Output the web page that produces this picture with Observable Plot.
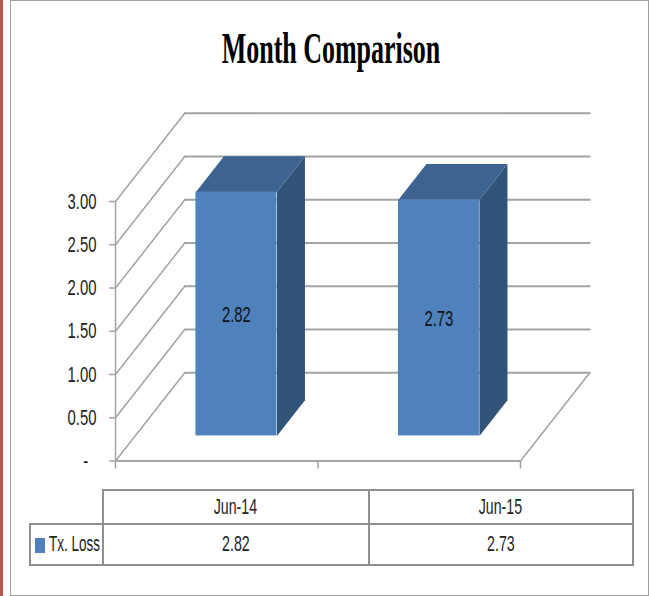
<!DOCTYPE html>
<html>
<head>
<meta charset="utf-8">
<script src="https://cdn.jsdelivr.net/npm/d3@7"></script>
<script src="https://cdn.jsdelivr.net/npm/@observablehq/plot@0.6"></script>
<style>
  html,body{margin:0;padding:0;background:#fff;}
  #page{position:relative;width:651px;height:596px;overflow:hidden;background:#fff;
        font-family:"Liberation Sans",sans-serif;color:#222;}
  #stripe{position:absolute;left:0;top:0;width:3px;height:596px;background:#C0504D;}
  #frame{position:absolute;left:10px;top:0;width:637px;height:593.5px;border:1.5px solid #a0a0a0;}
  #title{position:absolute;left:0;top:23px;width:662px;text-align:center;margin:0;line-height:normal;
         font:bold 44px "Liberation Serif",serif;color:#000;transform:scaleX(.59);}
  #chart{position:absolute;left:0;top:100px;}
  #chart svg{overflow:visible;}
  #dt{position:absolute;left:28.5px;top:488.5px;width:603px;border-collapse:collapse;table-layout:fixed;font-size:22.5px;}
  #dt td{border:2px solid #8f8f8f;text-align:center;padding:0;overflow:hidden;}
  #dt td.blank{border:none;border-right:2px solid #8f8f8f;border-bottom:2px solid #8f8f8f;}
  #dt td.key{text-align:left;white-space:nowrap;padding-left:4px;box-sizing:border-box;}
  #dt .t{display:inline-block;transform:scaleX(.63);}
  #dt .k{display:inline-block;transform:scaleX(.6);transform-origin:left center;}
  .sw{display:inline-block;width:10px;height:15px;background:#4F81BD;margin-right:4px;vertical-align:-2px;}
</style>
</head>
<body>
<div id="page">
  <div id="stripe"></div>
  <div id="frame"></div>
  <h1 id="title">Month Comparison</h1>
  <div id="chart"></div>
  <table id="dt"></table>
</div>
<script>
const categories = ["Jun-14", "Jun-15"];
const seriesName = "Tx. Loss";
const txLoss = [2.82, 2.73];
const valueTicks = [0, 0.5, 1, 1.5, 2, 2.5, 3];
const categoryEdges = [0, 1, 2];

const FRONT = "#4F81BD", SIDE = "#335479", TOP = "#3D6491", GRID = "#a3a3a3";

// oblique depth, in data units of the two scales
const depthX = 0.342, depthY = 1.02;
const barFront = 0.284, barBack = 0.689, barHalf = 0.2;
const proj = (x, v, z) => ({x: x + z * depthX, y: v + z * depthY});

const sideLines = valueTicks.flatMap(v => [proj(0, v, 0), proj(0, v, 1)].map(p => ({...p, s: v})));
const wallLines = valueTicks.flatMap(v => [proj(0, v, 1), proj(2, v, 1)].map(p => ({...p, s: v})));
const floorEdge = [proj(2, 0, 0), proj(2, 0, 1)];

const bars = txLoss.map((v, i) => ({v, c: i + 0.5, l: i + 0.5 - barHalf, r: i + 0.5 + barHalf}));
const sideFaces = bars.flatMap((b, i) => [
  proj(b.r, 0, barFront), proj(b.r, b.v, barFront), proj(b.r, b.v, barBack), proj(b.r, 0, barBack)
].map(p => ({...p, s: i})));
const topFaces = bars.flatMap((b, i) => [
  proj(b.l, b.v, barFront), proj(b.r, b.v, barFront), proj(b.r, b.v, barBack), proj(b.l, b.v, barBack)
].map(p => ({...p, s: i})));

const chart = Plot.plot({
  width: 651, height: 375,
  marginLeft: 115, marginRight: 131, marginTop: 101, marginBottom: 14.5,
  x: {domain: [0, 2]},
  y: {domain: [0, 3]},
  style: {fontFamily: '"Liberation Sans",sans-serif', fontSize: "22.5px", color: "#222", background: "transparent"},
  marks: [
    Plot.line(sideLines, {x: "x", y: "y", z: "s", stroke: GRID, strokeWidth: 1.5}),
    Plot.line(wallLines, {x: "x", y: "y", z: "s", stroke: GRID, strokeWidth: 2}),
    Plot.line(floorEdge, {x: "x", y: "y", stroke: GRID, strokeWidth: 1.5}),
    Plot.line(sideFaces, {x: "x", y: "y", z: "s", fill: SIDE, stroke: "none"}),
    Plot.line(topFaces, {x: "x", y: "y", z: "s", fill: TOP, stroke: "none"}),
    Plot.rect(bars, {
      x1: b => proj(b.l, 0, barFront).x, x2: b => proj(b.r, 0, barFront).x,
      y1: b => proj(0, 0, barFront).y, y2: b => proj(0, b.v, barFront).y,
      fill: FRONT
    }),
    Plot.text(bars, {
      x: b => proj(b.c, 0, barFront).x, y: b => proj(0, b.v / 2, barFront).y,
      text: b => b.v.toFixed(2), fill: "#111", fontSize: 22.5, dy: 0.5
    }),
    Plot.ruleY([0], {stroke: GRID, strokeWidth: 2}),
    Plot.ruleX([0], {stroke: GRID, strokeWidth: 1.5, y1: 0, y2: 3}),
    Plot.axisY({
      ticks: valueTicks, tickSize: 6, tickPadding: 13, stroke: GRID, strokeWidth: 1.5, label: null,
      tickFormat: d => d === 0 ? "-\u00a0\u00a0" : d3.format(".2f")(d), fill: "#222", fontSize: 22.5
    }),
    Plot.axisX({
      ticks: categoryEdges, tickSize: 8, tickFormat: () => "", stroke: GRID, strokeWidth: 1.5, label: null
    })
  ]
});
document.getElementById("chart").appendChild(chart);

// the reference's labels are horizontally squeezed
chart.querySelectorAll("text").forEach(t => {
  const n = t.getComputedTextLength();
  if (n > 0) {
    t.setAttribute("textLength", n * 0.66);
    t.setAttribute("lengthAdjust", "spacingAndGlyphs");
  }
});

const table = d3.select("#dt");
const cols = table.append("colgroup");
[73, 266, 264].forEach(w => cols.append("col").style("width", w + "px"));
const head = table.append("tr").style("height", "34px");
head.append("td").attr("class", "blank");
categories.forEach(c => head.append("td").append("span").attr("class", "t").text(c));
const row = table.append("tr").style("height", "41px");
const key = row.append("td").attr("class", "key");
key.append("span").attr("class", "sw");
key.append("span").attr("class", "k").text(seriesName);
txLoss.forEach(v => row.append("td").append("span").attr("class", "t").text(v.toFixed(2)));
</script>
</body>
</html>
